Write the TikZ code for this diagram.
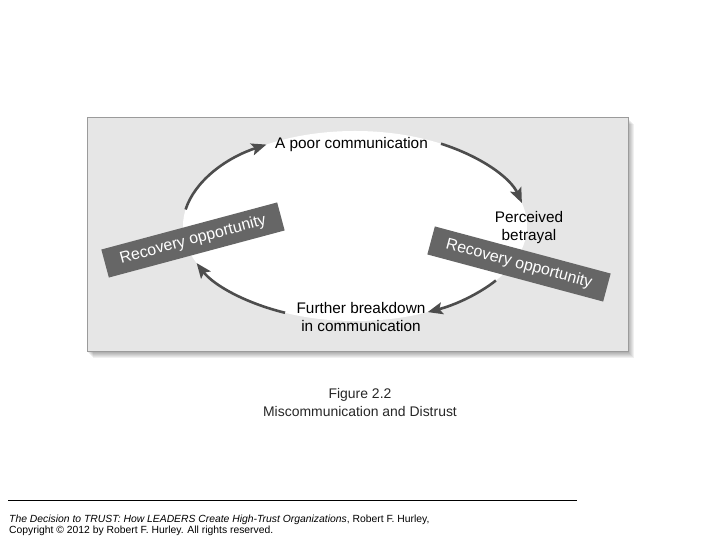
\documentclass[tikz,border=0pt]{standalone}
\usepackage{fontspec}
\setmainfont{Liberation Sans}
\usetikzlibrary{arrows.meta,calc}
\definecolor{panelGray}{RGB}{230,230,230}
\definecolor{edgeGray}{RGB}{155,155,155}
\definecolor{arcGray}{RGB}{77,77,77}
\definecolor{tagGray}{RGB}{102,102,102}

\begin{document}
\begin{tikzpicture}[
        x=1bp, y=1bp,
        stage/.style={align=center, inner sep=0pt, font=\fontsize{15.4}{18}\selectfont},
        tag/.style={rectangle, fill=tagGray, minimum width=182bp, minimum height=29bp, inner sep=0pt, text=white, font=\fontsize{16}{18}\selectfont},
        cyc/.style={-{Stealth[length=15bp, width=12bp, inset=3bp]}, line width=2.6bp, arcGray},
        caption/.style={align=center, inner sep=0pt, text=black!85, font=\fontsize{14}{17.7}\selectfont},
        credit/.style={align=left, inner sep=0pt, anchor=north west, font=\fontsize{10.4}{11.8}\selectfont}
    ]
        \useasboundingbox (0,0) rectangle (720,540);

        % Panel and its shadow
        \coordinate (pSW) at (87,188);
        \coordinate (pNE) at (628,422);
        \foreach \d in {1,...,6}
            \fill[black, opacity=0.06] ($(pSW)+(\d,-\d)$) rectangle ($(pNE)+(\d,-\d)$);
        \fill[panelGray, draw=edgeGray, line width=1bp] (pSW) rectangle (pNE);

        % White loop
        \coordinate (mid) at (355,314);
        \fill[white] (mid) ellipse [x radius=172bp, y radius=95bp];

        % Stages
        \node[stage] (poor) at (351.5,395) {A poor communication};
        \node[stage] (betray) at (529,312) {Perceived\\betrayal};
        \node[stage] (breakdown) at (361,223.4) {Further breakdown\\in communication};

        % Recovery tags
        \node[tag, rotate=15] (recL) at (193,300) {Recovery opportunity};
        \node[tag, rotate=-15] (recR) at (519,276) {Recovery opportunity};

        % Cycle arrows
        \coordinate (c1) at ($(mid)+(170:172 and 95)$);
        \coordinate (c2) at ($(mid)+(60:172 and 95)$);
        \coordinate (c3) at ($(mid)+(-35:172 and 95)$);
        \coordinate (c4) at ($(mid)+(-114:172 and 95)$);
        \draw[cyc] (c1) arc[start angle=170, end angle=121, x radius=172bp, y radius=95bp];
        \draw[cyc] (c2) arc[start angle=60, end angle=14, x radius=172bp, y radius=95bp];
        \draw[cyc] (c3) arc[start angle=-35, end angle=-65, x radius=172bp, y radius=95bp];
        \draw[cyc] (c4) arc[start angle=-114, end angle=-157, x radius=172bp, y radius=95bp];

        % Caption
        \node[caption] (fig) at (360,137.3) {Figure 2.2\\Miscommunication and Distrust};

        % Source line
        \coordinate (ruleL) at (8,39);
        \coordinate (ruleR) at (577,39);
        \draw[line width=1bp] (ruleL) -- (ruleR);
        \node[credit] (source) at (9,25.6) {\textit{The Decision to TRUST: How LEADERS Create High-Trust Organizations}, Robert F. Hurley,\\Copyright © 2012 by Robert F. Hurley. All rights reserved.};
    \end{tikzpicture}
\end{document}
